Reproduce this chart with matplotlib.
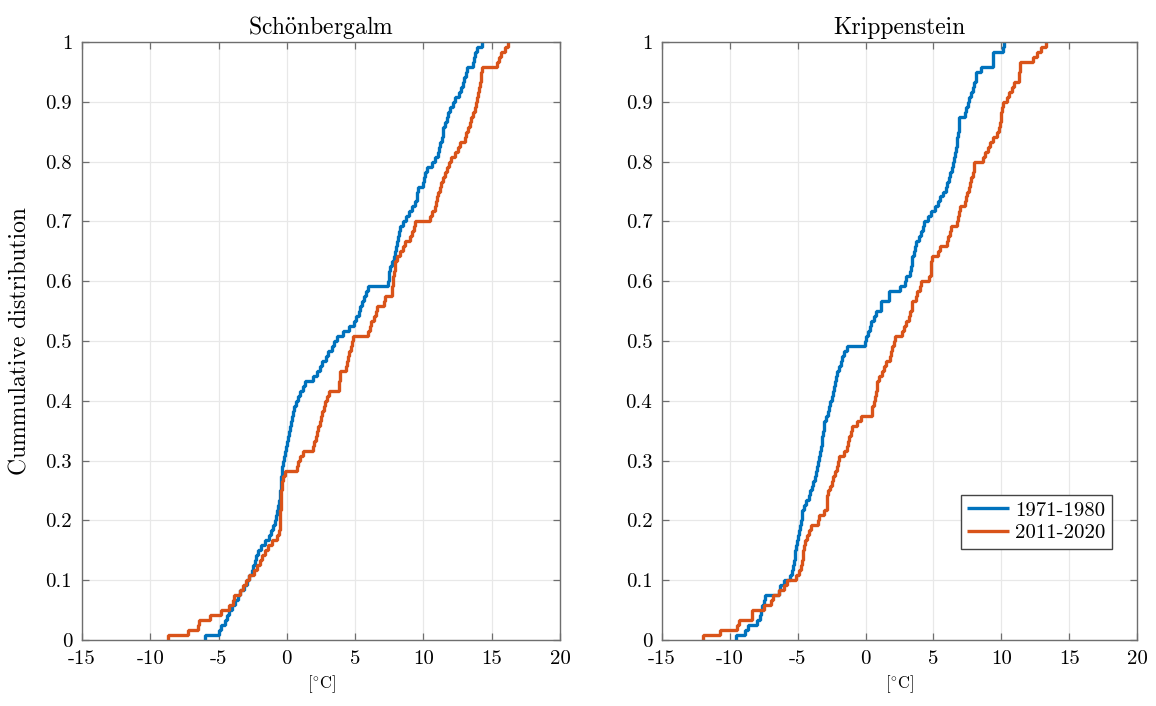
import numpy as np
import matplotlib
matplotlib.use('Agg')
import matplotlib.pyplot as plt
from matplotlib.ticker import FuncFormatter

plt.rcParams['font.family'] = ['cmr10', 'DejaVu Serif']
plt.rcParams['mathtext.fontset'] = 'cm'
plt.rcParams['axes.unicode_minus'] = False
plt.rcParams['axes.formatter.use_mathtext'] = False

# sorted monthly temperatures [degC]
schoen_1971 = [-6.0, -5.0, -4.8, -4.55, -4.35, -4.2, -3.98, -3.8, -3.6, -3.4, -3.15, -2.94,
               -2.75, -2.58, -2.5, -2.35, -2.25, -2.1, -1.87, -1.6, -1.3, -1.15, -1.0, -0.87,
               -0.8, -0.72, -0.65, -0.58, -0.5, -0.48, -0.46, -0.43, -0.41, -0.38, -0.32, -0.25,
               -0.18, -0.12, -0.05, 0.02, 0.1, 0.17, 0.23, 0.3, 0.37, 0.42, 0.5, 0.65, 0.84,
               1.0, 1.15, 1.3, 1.91, 2.2, 2.42, 2.6, 2.85, 3.05, 3.3, 3.45, 3.65, 4.13, 4.55,
               4.95, 5.1, 5.25, 5.35, 5.5, 5.65, 5.8, 5.96, 7.4, 7.45, 7.5, 7.55, 7.7, 7.85,
               7.95, 8.0, 8.1, 8.15, 8.22, 8.28, 8.5, 8.7, 8.95, 9.2, 9.4, 9.5, 9.55, 9.62,
               9.95, 10.05, 10.15, 10.3, 10.6, 10.85, 11.05, 11.15, 11.25, 11.35, 11.4, 11.45,
               11.55, 11.7, 11.8, 11.95, 12.15, 12.3, 12.6, 12.75, 12.9, 13.0, 13.1, 13.16,
               13.6, 13.7, 13.8, 13.89, 14.3]
schoen_2011 = [-8.68, -7.2, -6.5, -6.4, -5.6, -4.8, -4.2, -3.95, -3.9, -3.45, -3.2, -3.0,
               -2.75, -2.4, -2.2, -2.0, -1.8, -1.6, -1.35, -1.1, -0.75, -0.6, -0.5, -0.49,
               -0.48, -0.47, -0.46, -0.44, -0.42, -0.4, -0.38, -0.32, -0.26, -0.13, 0.78, 0.84,
               1.0, 1.2, 1.9, 2.0, 2.1, 2.2, 2.3, 2.42, 2.5, 2.6, 2.7, 2.79, 2.95, 3.1, 3.8,
               3.84, 3.87, 3.89, 4.3, 4.4, 4.5, 4.58, 4.7, 4.8, 4.86, 5.96, 6.1, 6.2, 6.4, 6.5,
               6.57, 7.1, 7.18, 7.67, 7.72, 7.76, 7.8, 7.85, 7.9, 7.95, 8.1, 8.3, 8.5, 8.65,
               9.01, 9.2, 9.3, 9.4, 10.5, 10.65, 10.84, 10.9, 11.0, 11.1, 11.2, 11.3, 11.45,
               11.6, 11.75, 11.9, 12.0, 12.31, 12.5, 12.7, 13.04, 13.15, 13.28, 13.4, 13.5,
               13.6, 13.77, 13.85, 13.93, 14.0, 14.05, 14.15, 14.2, 14.25, 14.3, 15.36, 15.5,
               15.65, 15.97, 16.2]
krip_1971 = [-9.53, -8.87, -8.7, -8.0, -7.8, -7.7, -7.6, -7.5, -7.39, -6.35, -6.28, -6.03,
             -5.54, -5.42, -5.35, -5.3, -5.22, -5.17, -5.1, -5.05, -5.0, -4.93, -4.85, -4.78,
             -4.72, -4.68, -4.55, -4.4, -4.2, -4.1, -3.95, -3.85, -3.75, -3.65, -3.57, -3.5,
             -3.42, -3.33, -3.28, -3.22, -3.18, -3.14, -3.1, -3.08, -2.95, -2.8, -2.68, -2.59,
             -2.5, -2.42, -2.34, -2.25, -2.15, -2.09, -1.95, -1.85, -1.72, -1.6, -1.4, -0.05,
             0.0, 0.15, 0.3, 0.37, 0.6, 0.74, 1.1, 1.15, 1.7, 1.75, 2.5, 2.9, 3.0, 3.3, 3.35,
             3.4, 3.45, 3.55, 3.65, 3.7, 3.9, 4.07, 4.2, 4.3, 4.6, 4.8, 5.1, 5.3, 5.5, 5.7,
             5.91, 6.0, 6.16, 6.25, 6.35, 6.41, 6.5, 6.6, 6.65, 6.7, 6.75, 6.8, 6.85, 6.88,
             6.9, 7.3, 7.4, 7.52, 7.65, 7.8, 7.88, 8.0, 8.1, 8.13, 8.5, 9.35, 9.37, 9.4,
             10.15, 10.18]
krip_2011 = [-11.95, -10.7, -9.5, -9.3, -8.4, -8.35, -7.5, -7.0, -6.8, -6.4, -6.0, -5.8,
             -5.1, -4.9, -4.75, -4.7, -4.65, -4.6, -4.56, -4.45, -4.31, -4.2, -4.05, -3.5,
             -3.45, -3.1, -2.83, -2.82, -2.81, -2.8, -2.6, -2.45, -2.4, -2.25, -2.1, -2.0,
             -1.97, -1.6, -1.35, -1.3, -1.2, -1.1, -0.98, -0.6, -0.37, 0.45, 0.5, 0.62, 0.7,
             0.78, 0.82, 0.86, 1.0, 1.2, 1.35, 1.5, 1.8, 1.9, 1.97, 2.1, 2.2, 2.7, 2.8, 2.95,
             3.2, 3.3, 3.4, 3.45, 3.7, 3.8, 4.0, 4.1, 4.7, 4.8, 4.82, 4.85, 4.9, 5.3, 5.5,
             6.0, 6.1, 6.2, 6.3, 6.7, 6.8, 6.9, 6.95, 7.3, 7.4, 7.5, 7.6, 7.7, 7.8, 7.9, 7.95,
             8.0, 8.65, 8.8, 9.0, 9.2, 9.4, 9.7, 9.8, 9.9, 9.95, 10.0, 10.05, 10.1, 10.4,
             10.6, 10.75, 10.9, 11.3, 11.32, 11.35, 11.4, 12.3, 12.6, 12.9, 13.3]

stations = ['Sch$\\mathrm{\\"o}$nbergalm', 'Krippenstein']
periods = ['1971-1980', '2011-2020']
colors = ['#0072BD', '#D95319']
xticks = [-15, -10, -5, 0, 5, 10, 15, 20]
yticks = [0, 0.1, 0.2, 0.3, 0.4, 0.5, 0.6, 0.7, 0.8, 0.9, 1]

data = [[schoen_1971, schoen_2011], [krip_1971, krip_2011]]

fig = plt.figure(figsize=(11.56, 7.06), dpi=100)
axes = [fig.add_axes([0.0709, 0.0935, 0.4135, 0.847]),
        fig.add_axes([0.5727, 0.0935, 0.4109, 0.847])]

fmt = FuncFormatter(lambda v, p: '%g' % v)

for i, ax in enumerate(axes):
    for j, vals in enumerate(data[i]):
        v = np.sort(np.array(vals))
        n = len(v)
        xs = np.r_[v[0], v]
        ys = np.r_[0, np.arange(1, n + 1) / n]
        ax.step(xs, ys, where='post', color=colors[j], lw=2.4, label=periods[j],
                solid_joinstyle='bevel', solid_capstyle='butt')
    ax.set_xlim(-15, 20)
    ax.set_ylim(0, 1)
    ax.set_xticks(xticks)
    ax.set_yticks(yticks)
    ax.xaxis.set_major_formatter(fmt)
    ax.yaxis.set_major_formatter(fmt)
    ax.grid(True, color='#e8e8e8', lw=0.9)
    ax.set_axisbelow(True)
    for s in ax.spines.values():
        s.set_color('#6e6e6e')
        s.set_linewidth(1.0)
    ax.tick_params(direction='in', length=5, width=0.9, color='#6e6e6e',
                   top=True, right=True, labelsize=15, pad=7)
    ax.set_title(stations[i], fontsize=17, pad=6)
    ax.set_xlabel('[$^{\\circ}$C]', fontsize=12, labelpad=4)

axes[0].set_ylabel('Cummulative distribution', fontsize=17, labelpad=10)
axes[1].legend(loc='upper right', bbox_to_anchor=(0.947, 0.243), fontsize=15,
               fancybox=False, edgecolor='#444444', framealpha=1,
               handlelength=2.0, handletextpad=0.3, borderpad=0.3, labelspacing=0.2,
               borderaxespad=0)

fig.savefig('out.png', dpi=100)
